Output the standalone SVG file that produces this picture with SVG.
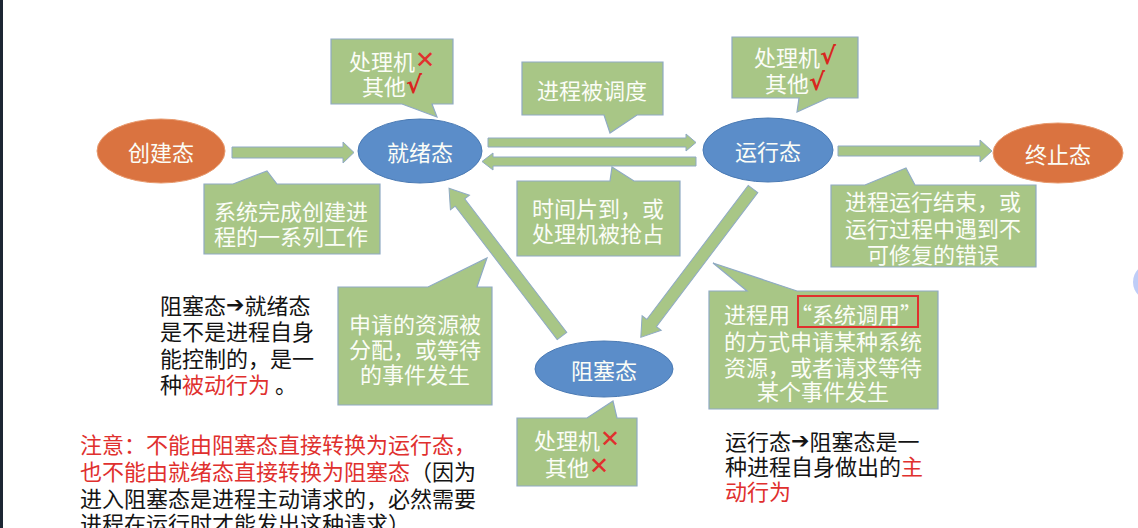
<svg xmlns="http://www.w3.org/2000/svg" width="1138" height="528" viewBox="0 0 1138 528">
<style>
.t{font-family:"Noto Sans CJK SC","Noto Sans CJK JP",sans-serif;font-size:22px;dominant-baseline:central}
.w{fill:#FBFDF7}
.k{fill:#141414}
.r{fill:#E0302E}
.mid{text-anchor:middle}
.co{fill:#A8C686;stroke:#8FAAC4;stroke-width:1.2}
.ar{fill:#A8C686;stroke:#8FAAC4;stroke-width:1}
.blue{fill:#5B8DC9;stroke:#4A7AB4;stroke-width:1}
.orange{fill:#DA7340;stroke:#E89A6E;stroke-width:1}
.x{font-family:"DejaVu Sans",sans-serif;fill:#E0302E;font-size:24px}
.v{font-family:"DejaVu Sans",sans-serif;fill:#D9261F;font-weight:bold;font-size:24px}
.ra{font-family:"DejaVu Sans",sans-serif;font-weight:bold;font-size:22px}
</style>
<rect x="0" y="0" width="1138" height="528" fill="#ffffff"/>
<rect x="0" y="0" width="3" height="528" fill="#1c2633"/>
<circle cx="1152" cy="282" r="19" fill="#BFCDF7"/>

<g id="connectors">
  <polygon class="ar" points="232,147 343,147 343,142 354,152.5 343,163 343,158 232,158"/>
  <polygon class="ar" points="488,138 686,138 686,134 696,142.5 686,151 686,147 488,147"/>
  <polygon class="ar" points="696,157 493,157 493,153 482,161.5 493,170 493,166 696,166"/>
  <polygon class="ar" points="838,146 980,146 980,140 992,151 980,162 980,156 838,156"/>
  <polygon class="ar" transform="translate(562,336) rotate(-127.4)" points="0,-6 168,-6 168,-12 186,0 168,12 168,6 0,6"/>
  <polygon class="ar" transform="translate(753,189) rotate(127.1)" points="0,-6 168,-6 168,-12 186,0 168,12 168,6 0,6"/>
</g>

<g id="node-create">
  <ellipse class="orange" cx="161" cy="151" rx="64" ry="32"/>
  <text class="t w mid" x="161" y="151">创建态</text>
</g>
<g id="node-ready">
  <ellipse class="blue" cx="420" cy="151" rx="62" ry="32"/>
  <text class="t w mid" x="420" y="151">就绪态</text>
</g>
<g id="node-running">
  <ellipse class="blue" cx="768" cy="150" rx="65" ry="32"/>
  <text class="t w mid" x="768" y="150">运行态</text>
</g>
<g id="node-terminated">
  <ellipse class="orange" cx="1058" cy="153" rx="65" ry="30"/>
  <text class="t w mid" x="1058" y="153">终止态</text>
</g>
<g id="node-blocked">
  <ellipse class="blue" cx="604" cy="369" rx="69" ry="28"/>
  <text class="t w mid" x="604" y="369">阻塞态</text>
</g>

<g id="callout-ready">
  <path class="co" d="M331,39 H453 V104 H432 L437,117 L402,104 H331 Z"/>
  <text class="t w mid" x="392" y="60">处理机<tspan class="x">✕</tspan></text>
  <text class="t w mid" x="392" y="85">其他<tspan class="v">√</tspan></text>
</g>
<g id="callout-dispatch">
  <path class="co" d="M522,62 H663 V115 H637 L610,133 L604,115 H522 Z"/>
  <text class="t w mid" x="592" y="89">进程被调度</text>
</g>
<g id="callout-running">
  <path class="co" d="M732,37 H858 V98 H828 L797,112 L799,98 H732 Z"/>
  <text class="t w mid" x="795" y="56">处理机<tspan class="v">√</tspan></text>
  <text class="t w mid" x="795" y="82">其他<tspan class="v">√</tspan></text>
</g>
<g id="callout-create">
  <path class="co" d="M204,184 H233 L267,171 L277,184 H380 V254 H204 Z"/>
  <text class="t w mid" x="291" y="210">系统完成创建进</text>
  <text class="t w mid" x="291" y="235">程的一系列工作</text>
</g>
<g id="callout-timeslice">
  <path class="co" d="M517,181 H610 L612,167 L634,181 H680 V256 H517 Z"/>
  <text class="t w mid" x="598" y="207">时间片到，或</text>
  <text class="t w mid" x="598" y="232">处理机被抢占</text>
</g>
<g id="callout-terminate">
  <path class="co" d="M831,185 H865 L906,168 L915,185 H1036 V267 H831 Z"/>
  <text class="t w mid" x="933" y="200">进程运行结束，或</text>
  <text class="t w mid" x="933" y="227">运行过程中遇到不</text>
  <text class="t w mid" x="933" y="253">可修复的错误</text>
</g>
<g id="callout-wakeup">
  <path class="co" d="M338,287 H428 L487,258 L477,287 H492 V405 H338 Z"/>
  <text class="t w mid" x="415" y="323">申请的资源被</text>
  <text class="t w mid" x="415" y="348">分配，或等待</text>
  <text class="t w mid" x="415" y="373">的事件发生</text>
</g>
<g id="callout-block">
  <path class="co" d="M709,291 H747 L713,263 L797,291 H938 V409 H709 Z"/>
  <text class="t w mid" x="823" y="313">进程用“系统调用”</text>
  <rect x="798" y="296" width="120" height="31" fill="none" stroke="#E0302E" stroke-width="2"/>
  <text class="t w mid" x="823" y="340">的方式申请某种系统</text>
  <text class="t w mid" x="823" y="366">资源，或者请求等待</text>
  <text class="t w mid" x="823" y="390">某个事件发生</text>
</g>
<g id="callout-blocked">
  <path class="co" d="M517,418 H587 L613,401 L617,418 H637 V486 H517 Z"/>
  <text class="t w mid" x="577" y="439">处理机<tspan class="x">✕</tspan></text>
  <text class="t w mid" x="577" y="466">其他<tspan class="x">✕</tspan></text>
</g>

<g id="note-passive">
  <text class="t k" x="160" y="304">阻塞态<tspan class="ra">➔</tspan>就绪态</text>
  <text class="t k" x="160" y="330">是不是进程自身</text>
  <text class="t k" x="160" y="357">能控制的，是一</text>
  <text class="t k" x="160" y="383">种<tspan class="r">被动行为</tspan> 。</text>
</g>
<g id="note-active">
  <text class="t k" x="725" y="440">运行态<tspan class="ra">➔</tspan>阻塞态是一</text>
  <text class="t k" x="725" y="465">种进程自身做出的<tspan class="r">主</tspan></text>
  <text class="t r" x="725" y="490">动行为</text>
</g>
<g id="note-warning">
  <text class="t r" x="80" y="443">注意：不能由阻塞态直接转换为运行态，</text>
  <text class="t r" x="80" y="470">也不能由就绪态直接转换为阻塞态<tspan class="k">（因为</tspan></text>
  <text class="t k" x="80" y="497">进入阻塞态是进程主动请求的，必然需要</text>
  <text class="t k" x="80" y="522">进程在运行时才能发出这种请求）</text>
</g>
</svg>
